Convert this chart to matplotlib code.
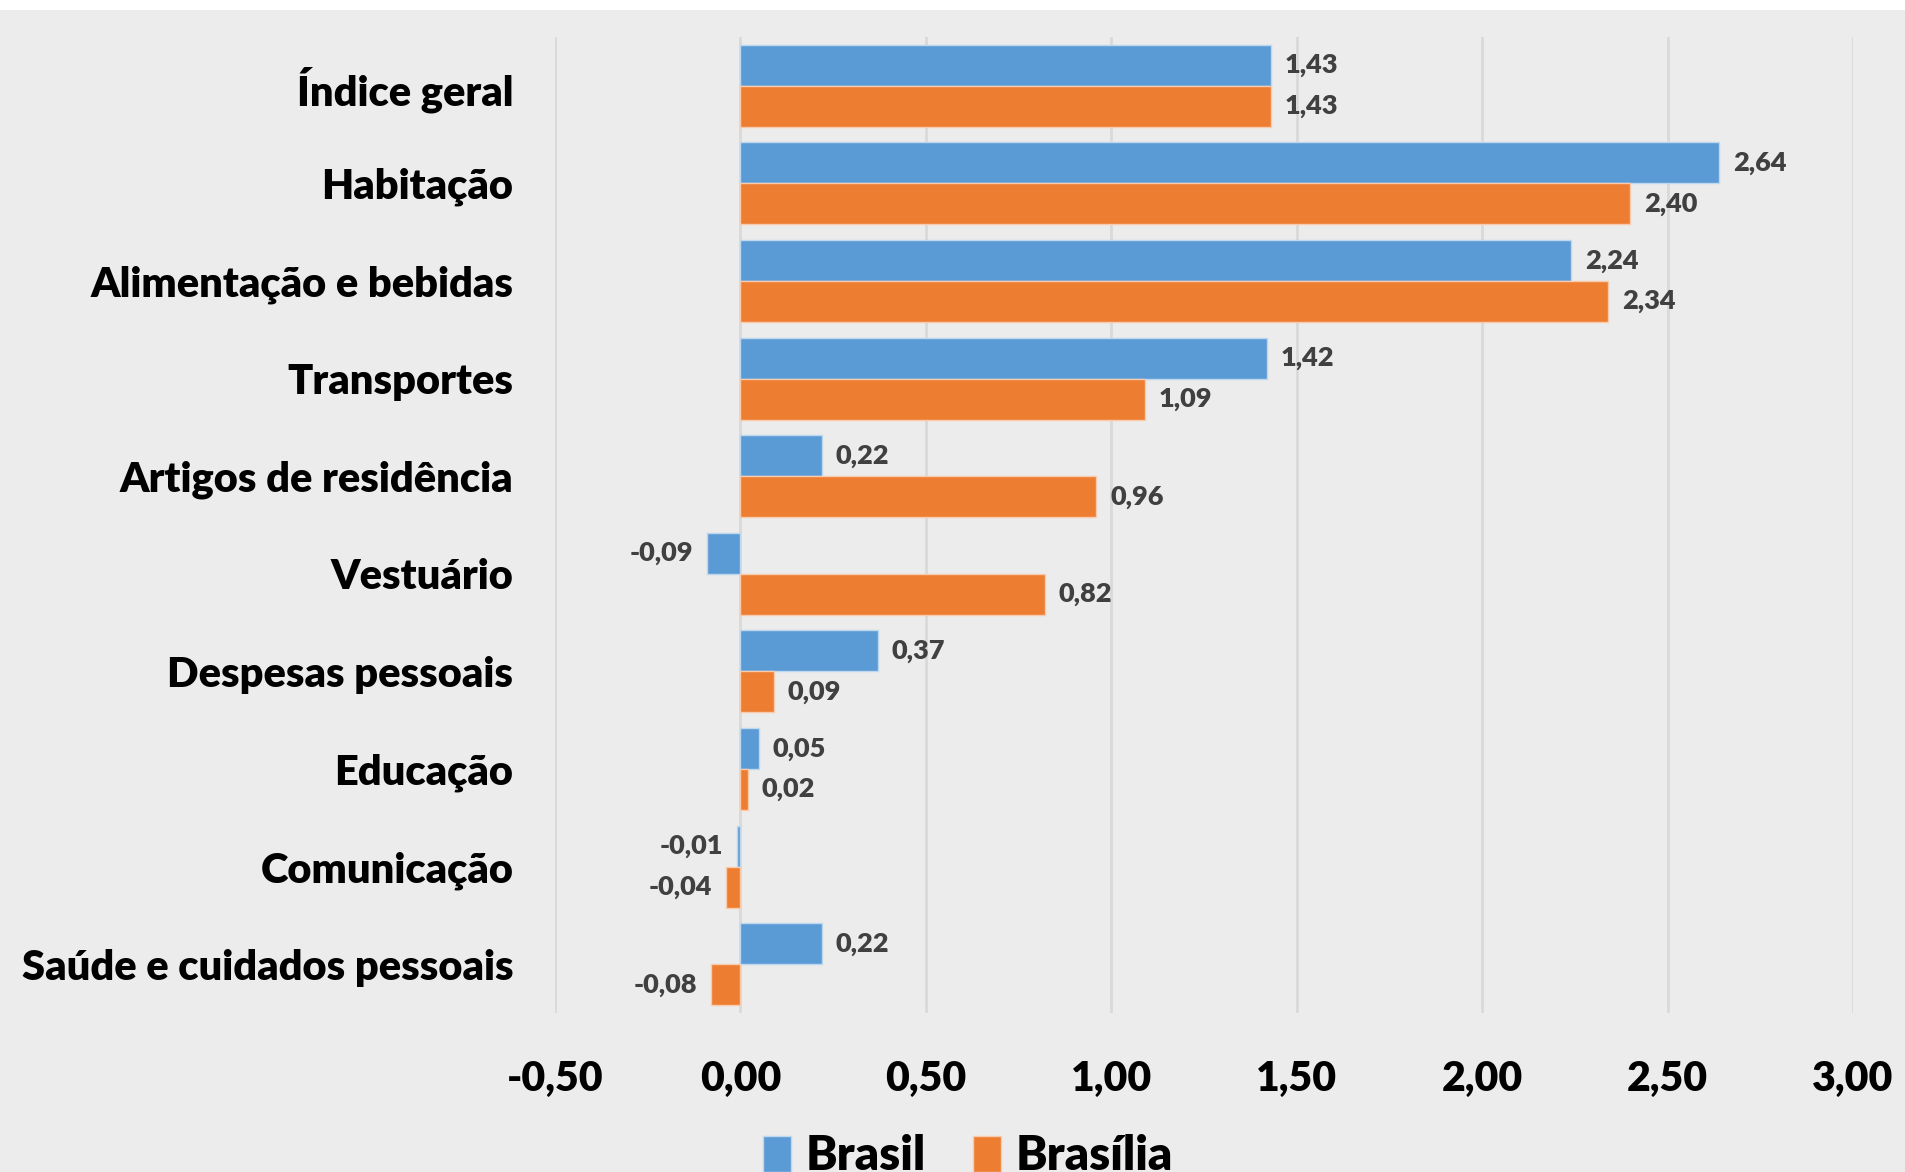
import matplotlib.pyplot as plt
from matplotlib.patches import Rectangle
import numpy as np

categorias = ["Índice geral", "Habitação", "Alimentação e bebidas", "Transportes",
              "Artigos de residência", "Vestuário", "Despesas pessoais", "Educação",
              "Comunicação", "Saúde e cuidados pessoais"]
brasil = [1.43, 2.64, 2.24, 1.42, 0.22, -0.09, 0.37, 0.05, -0.01, 0.22]
brasilia = [1.43, 2.40, 2.34, 1.09, 0.96, 0.82, 0.09, 0.02, -0.04, -0.08]
ticks_x = [-0.5, 0, 0.5, 1.0, 1.5, 2.0, 2.5, 3.0]

azul = "#5B9BD5"
laranja = "#ED7D31"
fundo = "#ECECEC"
peso = "heavy"

plt.rcParams['font.family'] = ['Lato', 'DejaVu Sans']

fig = plt.figure(figsize=(19.05, 11.72), dpi=100, facecolor=fundo)
fig.patches.append(Rectangle((0, 1 - 10 / 1172), 1, 10 / 1172, transform=fig.transFigure,
                             facecolor="white", edgecolor="none", zorder=10))
ax = fig.add_axes([555 / 1905, 1 - 1013 / 1172, (1853 - 555) / 1905, (1013 - 37) / 1172])
ax.set_facecolor(fundo)

y = np.arange(len(categorias))
h = 0.42
b1 = ax.barh(y - h / 2, brasil, height=h, color=azul, edgecolor="#BDD7EE", linewidth=1, label="Brasil", zorder=3)
b2 = ax.barh(y + h / 2, brasilia, height=h, color=laranja, edgecolor="#F8CBAD", linewidth=1, label="Brasília", zorder=3)

def rotular(barras, valores):
    for barra, v in zip(barras, valores):
        yc = barra.get_y() + barra.get_height() / 2
        txt = f"{v:.2f}".replace(".", ",")
        if v >= 0:
            ax.annotate(txt, (v, yc), xytext=(10, 0), textcoords="offset points",
                        ha="left", va="center", fontsize=19.5, color="#404040", fontweight=peso)
        else:
            ax.annotate(txt, (v, yc), xytext=(-10, 0), textcoords="offset points",
                        ha="right", va="center", fontsize=19.5, color="#404040", fontweight=peso)

rotular(b1, brasil)
rotular(b2, brasilia)

ax.set_xlim(-0.5, 3.0)
ax.set_ylim(len(categorias) - 0.5, -0.5)
ax.set_xticks(ticks_x)
ax.set_xticklabels([f"{t:.2f}".replace(".", ",") for t in ticks_x], fontsize=29.5, fontweight=peso)
ax.set_yticks(y)
ax.set_yticklabels(categorias, fontsize=30, fontweight=peso)
ax.tick_params(axis="both", length=0)
ax.tick_params(axis="x", pad=34)
ax.tick_params(axis="y", pad=30)
ax.grid(axis="x", color="#D9D9D9", linewidth=2, zorder=0)
for s in ax.spines.values():
    s.set_visible(False)

fig.legend(handles=[b1, b2], loc="center", bbox_to_anchor=(968 / 1905, 1 - 1156 / 1172),
           ncol=2, frameon=False, handlelength=0.6, handleheight=0.8,
           handletextpad=0.3, columnspacing=1.0, prop={'weight': peso, 'size': 34})

fig.savefig("out.png", dpi=100, facecolor=fundo)
